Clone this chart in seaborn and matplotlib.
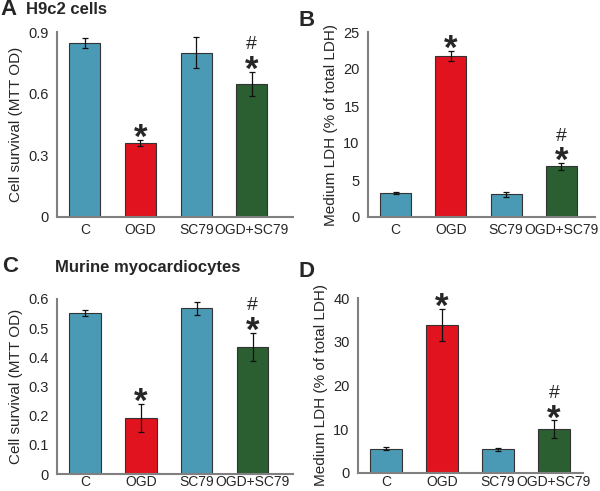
import pandas as pd
import matplotlib.pyplot as plt
import seaborn as sns

sns.set_style("white")
plt.rcParams['font.family'] = ['Liberation Sans', 'DejaVu Sans']

groups = ["C", "OGD", "SC79", "OGD+SC79"]
colors = ["#4a9ab5", "#e0131f", "#4a9ab5", "#2b5e31"]

# panel A: H9c2 MTT
a_vals = [0.848, 0.360, 0.800, 0.647]
a_err = [0.025, 0.015, 0.075, 0.060]
# panel B: H9c2 LDH
b_vals = [3.25, 21.75, 3.05, 6.85]
b_err = [0.12, 0.70, 0.35, 0.45]
# panel C: murine MTT
c_vals = [0.552, 0.193, 0.568, 0.437]
c_err = [0.009, 0.048, 0.023, 0.048]
# panel D: murine LDH
d_vals = [5.5, 33.8, 5.4, 10.0]
d_err = [0.35, 3.7, 0.35, 2.1]

a_marks = ["", "*", "", "*#"]
b_marks = ["", "*", "", "*#"]
c_marks = ["", "*", "", "*#"]
d_marks = ["", "*", "", "*#"]

a_ticks = [0, 0.3, 0.6, 0.9]
a_ticklabels = ["0", "0.3", "0.6", "0.9"]
b_ticks = [0, 5, 10, 15, 20, 25]
b_ticklabels = ["0", "5", "10", "15", "20", "25"]
c_ticks = [0, 0.1, 0.2, 0.3, 0.4, 0.5, 0.6]
c_ticklabels = ["0", "0.1", "0.2", "0.3", "0.4", "0.5", "0.6"]
d_ticks = [0, 10, 20, 30, 40]
d_ticklabels = ["0", "10", "20", "30", "40"]

W, H = 600, 491
fig = plt.figure(figsize=(6, 4.91), dpi=100)


def px_axes(left, top, right, bottom):
    return fig.add_axes([left / W, 1 - bottom / H, (right - left) / W, (bottom - top) / H])


def panel(ax, vals, err, marks, ticks, ticklabels, ylabel, xmax, xpad):
    df = pd.DataFrame({"group": groups, "value": vals})
    sns.barplot(data=df, x="group", y="value", hue="group", palette=colors,
                saturation=1, width=0.56, edgecolor="#333333", linewidth=0.8,
                errorbar=None, legend=False, ax=ax)
    ax.errorbar(range(len(groups)), vals, yerr=err, fmt="none", ecolor="#111111",
                elinewidth=0.9, capsize=2.2, capthick=0.9)
    for i, m in enumerate(marks):
        top = vals[i] + err[i]
        if "*" in m:
            ax.annotate("*", xy=(i, top), xytext=(0, -6), textcoords="offset points",
                        ha="center", va="baseline", fontsize=25, fontweight="bold")
        if "#" in m:
            ax.annotate("#", xy=(i, top), xytext=(0, 16), textcoords="offset points",
                        ha="center", va="baseline", fontsize=14)
    ax.set_ylim(ticks[0], ticks[-1])
    ax.set_yticks(ticks)
    ax.set_yticklabels(ticklabels, fontsize=10.5)
    ax.set_xlim(-0.5, xmax)
    ax.set_xticks(range(len(groups)))
    ax.set_xticklabels(groups, fontsize=10)
    ax.set_xticks([-0.5, 0.5, 1.5, 2.5, 3.5], minor=True)
    ax.tick_params(axis="x", which="major", length=0, pad=xpad)
    ax.tick_params(axis="x", which="minor", length=4, width=1.2, color="#808080", direction="out")
    ax.tick_params(axis="y", length=4, width=1.2, color="#808080", direction="out", pad=2)
    ax.set_xlabel("")
    ax.set_ylabel(ylabel, fontsize=11, labelpad=4)
    sns.despine(ax=ax)
    for s in ["left", "bottom"]:
        ax.spines[s].set_color("#808080")
        ax.spines[s].set_linewidth(1.5)


axA = px_axes(57, 32, 293, 217)
panel(axA, a_vals, a_err, a_marks, a_ticks, a_ticklabels, "Cell survival (MTT OD)", 3.74, 4)
axB = px_axes(368, 32, 595, 217)
panel(axB, b_vals, b_err, b_marks, b_ticks, b_ticklabels, "Medium LDH (% of total LDH)", 3.61, 4)
axC = px_axes(57, 299, 293, 474)
panel(axC, c_vals, c_err, c_marks, c_ticks, c_ticklabels, "Cell survival (MTT OD)", 3.72, 1)
axD = px_axes(358, 298, 583, 473)
panel(axD, d_vals, d_err, d_marks, d_ticks, d_ticklabels, "Medium LDH (% of total LDH)", 3.52, 1.5)


def ftext(x, y, s, size):
    fig.text(x / W, 1 - y / H, s, fontsize=size, fontweight="bold", va="baseline", ha="left")


ftext(0, 15, "A", 16)
ftext(26, 14, "H9c2 cells", 12)
ftext(299, 26, "B", 16)
ftext(2, 272, "C", 16)
ftext(55, 272, "Murine myocardiocytes", 12)
ftext(299, 277, "D", 16)

fig.savefig("out.png", dpi=100)
